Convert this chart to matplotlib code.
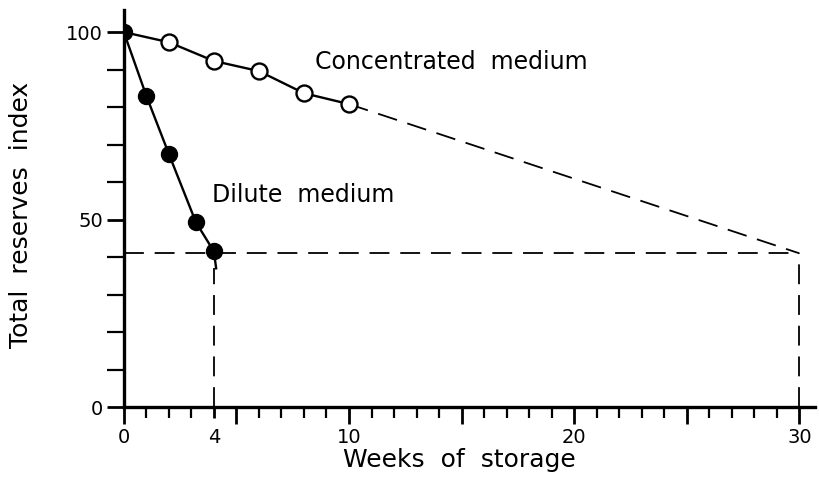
import numpy as np
import matplotlib
matplotlib.use("Agg")
import matplotlib.pyplot as plt

plt.rcParams["font.family"] = ["DejaVu Sans"]

# dilute medium (filled circles)
dilute_weeks = [0, 1, 2, 3.2, 4]
dilute_index = [100, 83, 67.5, 49.3, 41.5]

# concentrated medium (open circles)
conc_weeks = [0, 2, 4, 6, 8, 10]
conc_index = [100, 97.3, 92.3, 89.6, 83.7, 80.8]

# extrapolations
dilute_end = (4.1, 37)
conc_extrap_weeks = [10, 30]
conc_extrap_index = [80.8, 41]
threshold = 41

fig = plt.figure(figsize=(8.2, 4.8), dpi=100)
ax = fig.add_axes([0.151, 0.152, 0.843, 0.828])

dash = (0, (11, 6))
ax.plot([0, 30], [threshold, threshold], color="black", lw=1.3, linestyle=dash)
ax.plot([4, 4], [0, dilute_end[1]], color="black", lw=1.3, linestyle=dash)
ax.plot([30, 30], [0, threshold], color="black", lw=1.3, linestyle=dash)
ax.plot(conc_extrap_weeks, conc_extrap_index, color="black", lw=1.3, linestyle=dash)

ax.plot(dilute_weeks + [dilute_end[0]], dilute_index + [dilute_end[1]],
        color="black", lw=1.7)
ax.plot(dilute_weeks, dilute_index, "o", color="black", ms=11.5, zorder=4)
ax.plot(conc_weeks, conc_index, "-", color="black", lw=1.7)
ax.plot(conc_weeks[1:], conc_index[1:], "o", mfc="white", mec="black",
        mew=1.7, ms=11.5, zorder=4)

ax.text(8.5, 92, "Concentrated  medium", fontsize=17, va="center", ha="left")
ax.text(3.9, 56.6, "Dilute  medium", fontsize=17, va="center", ha="left")

ax.set_xlim(0, 30.7)
ax.set_ylim(0, 106)
for s in ["top", "right"]:
    ax.spines[s].set_visible(False)
for s in ["left", "bottom"]:
    ax.spines[s].set_linewidth(2.4)

ax.set_xticks([0, 4, 5, 10, 15, 20, 25, 30])
ax.set_xticklabels(["0", "4", "", "10", "", "20", "", "30"])
ax.set_xticks(np.arange(0, 31, 1), minor=True)
ax.set_yticks([0, 50, 100])
ax.set_yticks(np.arange(0, 101, 10), minor=True)
ax.tick_params(axis="both", which="major", length=12, width=2, labelsize=14, pad=3)
ax.tick_params(axis="both", which="minor", length=8, width=1.6)
ax.tick_params(axis="y", which="both", length=12)
ax.xaxis.get_major_ticks()[1].tick1line.set_markersize(8)

ax.set_xlabel("Weeks  of  storage", fontsize=18)
ax.set_ylabel("Total  reserves  index", fontsize=18)
ax.xaxis.set_label_coords(0.486, -0.103)
ax.yaxis.set_label_coords(-0.132, 0.483)

fig.savefig("out.png", dpi=100)
